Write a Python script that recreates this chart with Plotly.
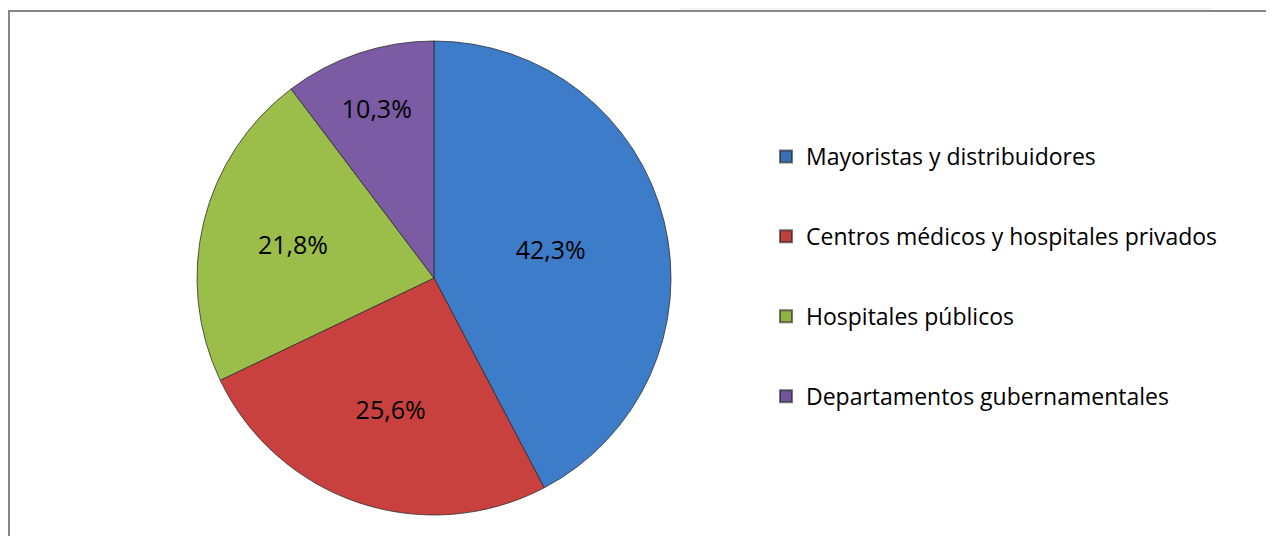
import plotly.graph_objects as go

categories = ["Mayoristas y distribuidores",
              "Centros médicos y hospitales privados",
              "Hospitales públicos",
              "Departamentos gubernamentales"]
values = [42.3, 25.6, 21.8, 10.3]
colors = ["#3d7cc9", "#c9413e", "#9bbd4a", "#7b5ba4"]
legend_colors = ["#3b6fb4", "#c0403c", "#90b443", "#70559a"]

# page body has an 8px margin: figure coords = page coords - 8
W, H = 1266, 528
FONT = "Open Sans"


def px(x):
    return x / W


def py(y):
    return 1 - y / H


fig = go.Figure()

fig.add_trace(go.Pie(
    labels=categories,
    values=values,
    sort=False,
    direction="clockwise",
    rotation=0,
    marker=dict(colors=colors, line=dict(color="rgba(40,40,40,0.75)", width=1)),
    texttemplate="%{value:.1f}%",
    textposition="inside",
    insidetextorientation="horizontal",
    textfont=dict(family=FONT, size=25, color="#000000"),
    hoverinfo="label+percent",
    showlegend=False,
    domain=dict(x=[px(189), px(663)], y=[py(507), py(33)]),
))

for i, (cat, col) in enumerate(zip(categories, legend_colors)):
    fig.add_trace(go.Scatter(
        x=[None], y=[None], mode="markers", name=cat,
        legendgroup="g%d" % i,
        marker=dict(symbol="square", size=16, color=col,
                    line=dict(color="rgba(30,30,30,0.6)", width=1)),
    ))

shapes = [
    dict(type="rect", xref="paper", yref="paper",
         x0=px(672), x1=px(1205), y0=py(2), y1=1.0,
         fillcolor="#f3f3f3", line=dict(width=0), layer="below"),
    dict(type="line", xref="paper", yref="paper",
         x0=0, x1=1.01, y0=py(3), y1=py(3),
         line=dict(color="#868686", width=2)),
    dict(type="line", xref="paper", yref="paper",
         x0=px(1), x1=px(1), y0=py(3), y1=-0.01,
         line=dict(color="#868686", width=2)),
]

fig.update_layout(
    width=W, height=H,
    margin=dict(l=0, r=0, t=0, b=0),
    paper_bgcolor="white", plot_bgcolor="white",
    separators=",.",
    xaxis=dict(visible=False), yaxis=dict(visible=False),
    shapes=shapes,
    legend=dict(x=px(758), y=py(127), xanchor="left", yanchor="top",
                font=dict(family=FONT, size=23, color="#000000"),
                tracegroupgap=47, itemsizing="constant",
                bgcolor="rgba(0,0,0,0)"),
    font=dict(family=FONT),
)

fig.write_html("out.html")
